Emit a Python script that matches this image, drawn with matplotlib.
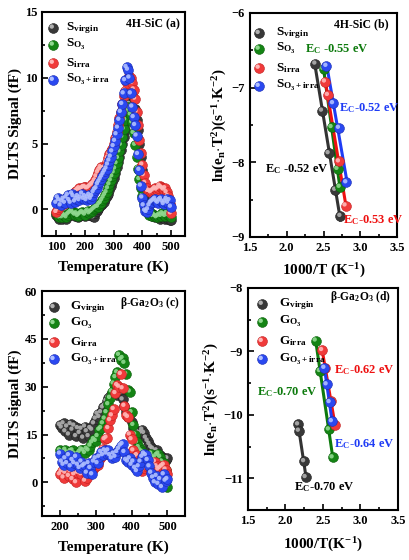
"""DLTS spectra and Arrhenius plots for 4H-SiC and beta-Ga2O3 (four panels)."""

import numpy as np
import matplotlib
matplotlib.use("Agg")
import matplotlib.pyplot as plt
from matplotlib.transforms import offset_copy
from matplotlib.ticker import MultipleLocator, FormatStrFormatter

plt.rcParams["font.family"] = ["Liberation Serif", "DejaVu Serif"]
plt.rcParams["font.weight"] = "bold"
plt.rcParams["mathtext.fontset"] = "custom"
plt.rcParams["mathtext.rm"] = "Liberation Serif:bold"
plt.rcParams["mathtext.bf"] = "Liberation Serif:bold"
plt.rcParams["mathtext.it"] = "Liberation Serif:bold:italic"

# ---------------- data ----------------
# panel (a): 4H-SiC DLTS spectra, T = 100..500 K every 5 K
temp_a = list(range(100, 505, 5))
sic_virgin = [
    -0.4, -0.6, -0.7, -0.6, -0.7, -0.5, -0.6, -0.7, -0.5, -0.4,
    -0.3, -0.2, -0.4, -0.5, -0.4, -0.6, -0.5, -0.4, -0.3, -0.4,
    -0.5, -0.3, -0.2, -0.4, -0.3, -0.5, -0.6, -0.3, -0.1, 0.0,
    0.2, 0.3, 0.4, 0.6, 0.8, 1.0, 1.2, 1.5, 1.8, 2.1,
    2.4, 2.8, 3.2, 3.6, 4.0, 4.5, 5.0, 5.5, 6.0, 6.7,
    7.4, 8.0, 8.5, 8.7, 8.4, 7.6, 6.8, 6.0, 5.0, 4.0,
    3.0, 2.0, 1.2, 0.5, 0.0, -0.3, -0.4, -0.5, -0.4, -0.6,
    -0.5, -0.6, -0.7, -0.6, -0.5, -0.6, -0.7, -0.6, -0.7, -0.8,
    -0.8,
]
sic_o3 = [
    -0.3, -0.5, -0.6, -0.5, -0.6, -0.4, -0.5, -0.6, -0.4, -0.3,
    -0.2, -0.1, -0.3, -0.4, -0.3, -0.5, -0.4, -0.3, -0.2, -0.3,
    -0.4, -0.2, -0.1, -0.3, -0.2, -0.1, 0.0, 0.1, 0.2, 0.2,
    0.4, 0.5, 0.7, 0.9, 1.1, 1.3, 1.6, 1.9, 2.2, 2.5,
    2.8, 3.1, 3.5, 3.9, 4.4, 4.9, 5.5, 6.1, 6.8, 7.4,
    7.8, 7.6, 7.2, 6.6, 5.8, 4.9, 4.0, 3.1, 2.3, 1.6,
    1.0, 0.5, 0.1, -0.2, -0.3, -0.4, -0.3, -0.5, -0.4, -0.5,
    -0.6, -0.5, -0.4, -0.5, -0.3, -0.4, -0.5, -0.3, -0.4, -0.5,
    -0.6,
]
sic_irra = [
    -0.2, 0.0, 0.2, 0.4, 0.5, 0.4, 0.6, 0.7, 0.8, 0.9,
    1.0, 1.1, 1.2, 1.3, 1.4, 1.5, 1.6, 1.5, 1.6, 1.7,
    1.7, 1.6, 1.6, 1.7, 1.8, 1.9, 2.0, 2.2, 2.5, 2.8,
    3.0, 3.2, 3.1, 3.0, 3.2, 3.6, 3.9, 4.2, 4.4, 4.6,
    5.0, 5.4, 5.9, 6.4, 6.9, 7.4, 8.0, 8.6, 9.0, 9.6,
    9.9, 10.1, 10.0, 9.6, 9.1, 8.4, 7.4, 6.4, 5.3, 4.3,
    3.4, 2.6, 2.0, 1.6, 1.4, 1.4, 1.3, 1.4, 1.5, 1.6,
    1.5, 1.6, 1.8, 1.7, 1.6, 1.5, 1.6, 1.3, 1.0, 0.4,
    -0.3,
]
sic_o3_irra = [
    0.5, 0.9, 0.7, 0.3, 0.6, 0.8, 0.5, 0.9, 1.1, 0.7,
    0.5, 1.2, 1.0, 0.6, 0.8, 1.0, 0.7, 0.9, 1.2, 0.8,
    1.0, 0.7, 0.9, 1.1, 0.8, 1.0, 1.3, 1.5, 1.6, 1.9,
    2.1, 2.3, 2.5, 2.7, 2.9, 3.1, 3.4, 3.7, 4.0, 4.4,
    4.8, 5.2, 5.7, 6.2, 6.8, 7.4, 8.0, 8.8, 9.8, 10.8,
    10.6, 10.0, 8.8, 7.8, 7.0, 6.4, 5.6, 4.2, 3.0, 1.8,
    0.9, 0.3, -0.1, -0.2, 0.0, 0.3, 0.5, 0.6, 0.7, 0.8,
    0.6, 0.5, 0.7, 0.8, 0.6, 0.4, 0.6, 0.8, 0.5, 0.7,
    0.2,
]

# panel (b): 4H-SiC Arrhenius points (1000/T, ln(en T^-2))
arr_b_virgin_x = [2.39, 2.48, 2.57, 2.66, 2.73]
arr_b_virgin_y = [-6.68, -7.31, -7.88, -8.37, -8.72]
arr_b_o3_x = [2.50, 2.61, 2.69, 2.72]
arr_b_o3_y = [-6.75, -7.53, -8.09, -8.33]
arr_b_irra_x = [2.52, 2.56, 2.71, 2.80]
arr_b_irra_y = [-6.92, -7.10, -7.99, -8.58]
arr_b_o3_irra_x = [2.54, 2.63, 2.71, 2.81]
arr_b_o3_irra_y = [-6.71, -7.21, -7.54, -8.27]

# panel (c): beta-Ga2O3 DLTS spectra, T = 200..500 K every 5 K
temp_c = list(range(200, 505, 5))
ga_virgin = [
    18.0, 17.2, 18.5, 16.0, 17.5, 15.0, 18.3, 16.5, 17.8, 14.5,
    17.0, 15.5, 16.8, 14.0, 17.5, 16.0, 14.5, 17.0, 16.5, 18.5,
    20.0, 21.5, 20.5, 22.0, 23.5, 24.0, 25.5, 26.5, 27.0, 28.0,
    29.0, 28.5, 27.5, 29.0, 28.0, 26.0, 24.0, 22.0, 20.5, 21.5,
    19.0, 17.0, 15.5, 16.0, 14.5, 15.5, 16.5, 15.5, 14.0, 13.0,
    12.0, 11.0, 10.5, 9.5, 10.0, 9.0, 8.5, 8.0, 7.5, 7.0,
    7.5,
]
ga_o3 = [
    10.0, 9.5, 9.0, 10.2, 9.3, 8.5, 9.8, 10.0, 9.0, 8.2,
    8.8, 9.5, 10.3, 10.0, 9.2, 10.5, 10.0, 11.5, 12.5, 13.5,
    13.0, 14.5, 16.5, 17.0, 18.5, 20.0, 22.0, 24.5, 26.5, 28.5,
    31.0, 33.0, 34.5, 40.0, 38.5, 39.0, 37.5, 34.0, 29.0, 28.5,
    22.0, 18.0, 15.0, 12.5, 11.0, 10.0, 9.5, 9.0, 8.5, 8.0,
    8.5, 9.0, 8.0, 7.5, 8.5, 9.0, 8.0, 6.5, 6.0, 4.0,
    -1.5,
]
ga_irra = [
    2.5, 3.5, 1.5, 3.0, 4.0, 2.0, 3.5, 1.0, 2.5, 0.0,
    3.0, 4.5, 2.5, 3.5, 0.5, 1.5, 3.0, 4.0, 3.5, 4.5,
    5.0, 5.5, 7.0, 8.0, 10.5, 13.5, 14.0, 17.0, 19.5, 21.0,
    23.0, 28.0, 30.5, 30.0, 34.0, 29.5, 24.0, 21.0, 20.5, 15.0,
    13.5, 10.0, 8.0, 8.5, 6.0, 5.0, 3.5, 4.5, 5.0, 6.0,
    5.0, 4.0, 5.5, 6.5, 5.0, 4.0, 4.5, 5.0, 5.5, 4.0,
    2.5,
]
ga_o3_irra = [
    9.0, 6.5, 5.5, 7.5, 6.0, 8.5, 5.0, 7.0, 6.0, 8.0,
    5.5, 4.5, 6.5, 5.0, 5.5, 3.0, 6.0, 4.5, 2.5, 6.5,
    7.5, 6.0, 8.0, 9.5, 8.5, 10.0, 9.0, 10.0, 8.5, 7.5,
    9.0, 8.0, 9.5, 10.5, 11.5, 12.0, 9.5, 7.0, 6.5, 7.5,
    5.5, 6.5, 4.5, 3.5, 5.0, 6.5, 8.0, 9.0, 8.5, 7.0,
    5.0, 3.0, 1.5, 0.0, 2.0, -0.5, 1.0, -1.5, 2.5, 0.5,
    1.0,
]

# panel (d): beta-Ga2O3 Arrhenius points
arr_d_virgin_x = [2.17, 2.18, 2.25, 2.27]
arr_d_virgin_y = [-10.15, -10.25, -10.73, -10.98]
arr_d_o3_x = [2.405, 2.46, 2.58, 2.63]
arr_d_o3_y = [-8.83, -9.31, -10.23, -10.67]
arr_d_irra_x = [2.49, 2.53, 2.61, 2.66]
arr_d_irra_y = [-8.98, -9.26, -9.78, -10.16]
arr_d_o3_irra_x = [2.52, 2.55, 2.59, 2.62]
arr_d_o3_irra_y = [-9.26, -9.52, -9.80, -10.10]

# colours: (ball, highlight, line)
BLACK = ("#383838", "#b0b0b0", "#333333")
GREEN = ("#148414", "#8fd88f", "#0d7a0d")
RED = ("#f03a3a", "#ffb8b8", "#ee1111")
BLUE = ("#2a48f0", "#b0c0ff", "#1f3cf5")
EDGE = {"#383838": "#202020", "#148414": "#0b5e0b", "#f03a3a": "#c02020", "#2a48f0": "#1a2cb0"}

fig = plt.figure(figsize=(4.09, 5.6), dpi=100)


def balls(ax, x, y, col, s=50, z=3):
    """Shaded 'sphere' markers: base disc plus a small offset highlight."""
    ax.scatter(x, y, s=s, c=col[0], edgecolors=EDGE[col[0]], linewidths=0.4, zorder=z)
    tr = offset_copy(ax.transData, fig=fig, x=-0.8, y=0.8, units="points")
    ax.scatter(x, y, s=s * 0.2, c=col[1], edgecolors="none", alpha=0.9,
               transform=tr, zorder=z + 0.05)


def legend_balls(ax, labels, cols, bx, tx, ys, size=9.5):
    for lab, col, yy in zip(labels, cols, ys):
        ax.scatter([bx], [yy], s=50, c=col[0], edgecolors=EDGE[col[0]], linewidths=0.4,
                   transform=ax.transAxes, zorder=6, clip_on=False)
        tr = offset_copy(ax.transAxes, fig=fig, x=-0.8, y=0.8, units="points")
        ax.scatter([bx], [yy], s=10, c=col[1], edgecolors="none",
                   transform=tr, zorder=6.1, clip_on=False)
        ax.text(tx, yy, lab, transform=ax.transAxes, fontsize=size,
                va="center", ha="left", zorder=7)


def style(ax):
    for sp in ax.spines.values():
        sp.set_linewidth(1.5)
    ax.tick_params(which="both", direction="in", labelsize=9, width=1.2)
    ax.tick_params(which="major", length=4)
    ax.tick_params(which="minor", length=2.5)
    for lab in ax.get_xticklabels() + ax.get_yticklabels():
        lab.set_fontweight("bold")


def fit_line(ax, x, y, color):
    k, b = np.polyfit(x, y, 1)
    xs = np.array([min(x), max(x)])
    ax.plot(xs, k * xs + b, color=color, lw=2.2, zorder=2)


cols = [BLACK, GREEN, RED, BLUE]
s_labels = [r"S$_{\mathregular{virgin}}$", r"S$_{\mathregular{O_3}}$",
            r"S$_{\mathregular{irra}}$", r"S$_{\mathregular{O_3+irra}}$"]
g_labels = [r"G$_{\mathregular{virgin}}$", r"G$_{\mathregular{O_3}}$",
            r"G$_{\mathregular{irra}}$", r"G$_{\mathregular{O_3+irra}}$"]
arr_ylabel = (r"ln(e$_{\mathregular{n}}$$\cdot$T$^{\mathregular{2}}$)"
              r"(s$^{\mathregular{-1}}$$\cdot$K$^{\mathregular{-2}}$)")

# ---------------- (a) ----------------
ax = fig.add_axes([0.103, 0.579, 0.350, 0.400])
for vals, col, z in zip([sic_virgin, sic_o3, sic_irra, sic_o3_irra], cols, [3, 3.2, 3.4, 3.6]):
    balls(ax, temp_a, vals, col, z=z)
ax.set_xlim(50, 550)
ax.set_ylim(-2, 15)
ax.xaxis.set_major_locator(MultipleLocator(100))
ax.xaxis.set_minor_locator(MultipleLocator(50))
ax.yaxis.set_major_locator(MultipleLocator(5))
ax.yaxis.set_minor_locator(MultipleLocator(2.5))
ax.set_xlabel("Temperature (K)", fontsize=11, fontweight="bold", labelpad=6)
ax.set_ylabel("DLTS Signal (fF)", fontsize=11, fontweight="bold", labelpad=2)
style(ax)
legend_balls(ax, s_labels, cols, 0.075, 0.165, [0.929, 0.853, 0.772, 0.696])
ax.text(0.965, 0.95, "4H-SiC (a)", transform=ax.transAxes, fontsize=8.5,
        ha="right", va="center")

# ---------------- (b) ----------------
ax = fig.add_axes([0.611, 0.577, 0.360, 0.400])
pts_b = [(arr_b_virgin_x, arr_b_virgin_y), (arr_b_o3_x, arr_b_o3_y),
         (arr_b_irra_x, arr_b_irra_y), (arr_b_o3_irra_x, arr_b_o3_irra_y)]
for (px, py), col, z in zip(pts_b, cols, [3, 3.2, 3.4, 3.6]):
    fit_line(ax, px, py, col[2])
    balls(ax, px, py, col, z=z)
ax.set_xlim(1.5, 3.5)
ax.set_ylim(-9, -6)
ax.xaxis.set_major_locator(MultipleLocator(0.5))
ax.xaxis.set_minor_locator(MultipleLocator(0.25))
ax.yaxis.set_major_locator(MultipleLocator(1))
ax.yaxis.set_minor_locator(MultipleLocator(0.5))
ax.xaxis.set_major_formatter(FormatStrFormatter("%.1f"))
ax.set_xlabel(r"1000/T (K$^{\mathregular{-1}}$)", fontsize=11, fontweight="bold", labelpad=6)
ax.set_ylabel(arr_ylabel, fontsize=11, fontweight="bold", labelpad=2)
style(ax)
legend_balls(ax, s_labels, cols, 0.06, 0.175, [0.91, 0.84, 0.755, 0.674])
ax.text(0.94, 0.95, "4H-SiC (b)", transform=ax.transAxes, fontsize=8.5,
        ha="right", va="center")
ax.text(2.25, -6.49, r"E$_{\mathregular{C}}$ -0.55 eV", color="#0d7a0d", fontsize=9, va="center")
ax.text(2.71, -7.28, r"E$_{\mathregular{C}}$-0.52 eV", color="#1f3cf5", fontsize=9, va="center")
ax.text(1.71, -8.09, r"E$_{\mathregular{C}}$ -0.52 eV", color="black", fontsize=9, va="center")
ax.text(2.76, -8.77, r"E$_{\mathregular{C}}$-0.53 eV", color="#ee1111", fontsize=9, va="center")

# ---------------- (c) ----------------
ax = fig.add_axes([0.103, 0.079, 0.350, 0.401])
for vals, col, z in zip([ga_virgin, ga_o3, ga_irra, ga_o3_irra], cols, [3, 3.2, 3.4, 3.6]):
    balls(ax, temp_c, vals, col, z=z)
ax.set_xlim(150, 550)
ax.set_ylim(-10.5, 60)
ax.xaxis.set_major_locator(MultipleLocator(100))
ax.xaxis.set_minor_locator(MultipleLocator(50))
ax.yaxis.set_major_locator(MultipleLocator(15))
ax.yaxis.set_minor_locator(MultipleLocator(7.5))
ax.set_xlabel("Temperature (K)", fontsize=11, fontweight="bold", labelpad=6)
ax.set_ylabel("DLTS signal (fF)", fontsize=11, fontweight="bold", labelpad=2)
style(ax)
legend_balls(ax, g_labels, cols, 0.08, 0.195, [0.929, 0.858, 0.773, 0.698])
ax.text(0.96, 0.946, r"β-Ga$_{\mathregular{2}}$O$_{\mathregular{3}}$ (c)", transform=ax.transAxes,
        fontsize=8.3, ha="right", va="center")

# ---------------- (d) ----------------
ax = fig.add_axes([0.606, 0.089, 0.367, 0.397])
pts_d = [(arr_d_virgin_x, arr_d_virgin_y), (arr_d_o3_x, arr_d_o3_y),
         (arr_d_irra_x, arr_d_irra_y), (arr_d_o3_irra_x, arr_d_o3_irra_y)]
for (px, py), col, z in zip(pts_d, cols, [3, 3.2, 3.4, 3.6]):
    fit_line(ax, px, py, col[2])
    balls(ax, px, py, col, z=z)
ax.set_xlim(1.5, 3.5)
ax.set_ylim(-11.5, -8)
ax.xaxis.set_major_locator(MultipleLocator(0.5))
ax.xaxis.set_minor_locator(MultipleLocator(0.25))
ax.yaxis.set_major_locator(MultipleLocator(1))
ax.yaxis.set_minor_locator(MultipleLocator(0.5))
ax.xaxis.set_major_formatter(FormatStrFormatter("%.1f"))
ax.set_xlabel(r"1000/T(K$^{\mathregular{-1}}$)", fontsize=11, fontweight="bold", labelpad=6)
ax.set_ylabel(arr_ylabel, fontsize=11, fontweight="bold", labelpad=2)
style(ax)
legend_balls(ax, g_labels, cols, 0.093, 0.207, [0.928, 0.847, 0.761, 0.68])
ax.text(0.95, 0.96, r"β-Ga$_{\mathregular{2}}$O$_{\mathregular{3}}$ (d)", transform=ax.transAxes,
        fontsize=8.3, ha="right", va="center")
ax.text(2.65, -9.29, r"E$_{\mathregular{C}}$-0.62 eV", color="#ee1111", fontsize=9, va="center")
ax.text(1.62, -9.64, r"E$_{\mathregular{C}}$-0.70 eV", color="#0d7a0d", fontsize=9, va="center")
ax.text(2.65, -10.46, r"E$_{\mathregular{C}}$-0.64 eV", color="#1f3cf5", fontsize=9, va="center")
ax.text(2.12, -11.13, r"E$_{\mathregular{C}}$-0.70 eV", color="black", fontsize=9, va="center")

fig.savefig("out.png", dpi=100)
